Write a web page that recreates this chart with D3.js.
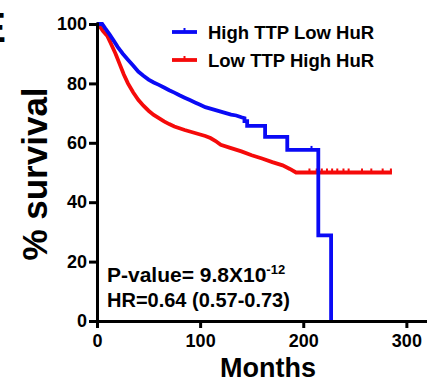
<!DOCTYPE html>
<html><head><meta charset="utf-8">
<script src="https://cdn.jsdelivr.net/npm/d3@7"></script>
<style>body{margin:0;background:#fff}svg{display:block}text{font-family:"Liberation Sans",Arial,sans-serif;font-weight:bold;fill:#000}</style>
</head><body>
<svg id="c" width="427" height="383"></svg>
<script>
const seriesNames = ["High TTP Low HuR", "Low TTP High HuR"];
const seriesColors = ["#0a0af5", "#f50a0a"];
// Kaplan-Meier curves: months, % survival (repeated months mark vertical steps)
const blueMonths = [0,5,8,12,16,20,25,30,35,40,45,50,55,60,65,70,75,80,85,90,95,100,105,110,115,120,125,130,135,140,143,143,145.6,145.6,163,163,184.5,184.5,214.6,214.6,227,227];
const blueSurv   = [100,100,98.5,96.6,94.5,92.3,90,88,86,84,82.6,81.3,80.3,79.5,78.6,77.7,76.9,76,75.2,74.4,73.6,72.8,72,71.5,71,70.5,70,69.5,69.2,68.6,68.3,67.3,67.3,65.7,65.7,62,62,57.6,57.6,28.8,28.8,0];
const redMonths  = [0,3,6,10,14,18,22,26,30,35,40,45,50,55,60,65,70,75,80,85,90,95,100,105,110,115,120,130,140,150,160,170,180,187,193,286];
const redSurv    = [100,99,97.5,96,93,90,86.5,83,80,77,74.5,72.5,70.8,69.4,68.3,67.2,66.3,65.5,64.9,64.3,63.8,63.3,62.8,62.3,61.6,60.6,59.3,58.2,57.1,55.8,54.7,53.5,52.4,51.2,50,50];
const blueCensor = [208];
const redCensor  = [206,213,218,223,228,233,239,244,257,266,277,285];
const xTicks = [0,100,200,300];
const yTicks = [0,20,40,60,80,100];

const svg = d3.select("#c");
const x = d3.scaleLinear().domain([0,320]).range([97,427]);
const y = d3.scaleLinear().domain([0,100]).range([321,24]);

function survAt(ms, ss, t){ let v = ss[0]; for(let i=0;i<ms.length;i++){ if(ms[i]<=t) v=ss[i]; } return v; }

const line = d3.line().x(d=>x(d[0])).y(d=>y(d[1])).curve(d3.curveLinear);
const series = [
  {months: blueMonths, surv: blueSurv, censor: blueCensor, color: seriesColors[0]},
  {months: redMonths, surv: redSurv, censor: redCensor, color: seriesColors[1]}
];
[series[1], series[0]].forEach(s=>{
  const pts = s.months.map((m,i)=>[m, s.surv[i]]);
  svg.append("path").attr("d", line(pts)).attr("fill","none")
    .attr("stroke", s.color).attr("stroke-width", 3.8).attr("stroke-linejoin","miter");
  svg.selectAll(null).data(s.censor).enter().append("line")
    .attr("x1", d=>x(d)).attr("x2", d=>x(d))
    .attr("y1", d=>y(survAt(s.months, s.surv, d))).attr("y2", d=>y(survAt(s.months, s.surv, d))-4)
    .attr("stroke", s.color).attr("stroke-width", 2);
});

// axes
const yAxis = svg.append("g").attr("transform","translate(97,0)")
  .call(d3.axisLeft(y).tickValues(yTicks).tickSize(8).tickPadding(2).tickSizeOuter(0));
const xAxis = svg.append("g").attr("transform","translate(0,321)")
  .call(d3.axisBottom(x).tickValues(xTicks).tickSize(7).tickPadding(6).tickSizeOuter(0));
[yAxis, xAxis].forEach(g=>{
  g.select(".domain").attr("stroke","#000").attr("stroke-width",3);
  g.selectAll(".tick line").attr("stroke","#000").attr("stroke-width",3);
  g.selectAll(".tick text").attr("font-size",18).attr("font-family","Liberation Sans, Arial, sans-serif").attr("font-weight","bold").attr("fill","#000");
});
xAxis.select(".domain").attr("d","M95.5,0.5H427");
yAxis.select(".domain").attr("d","M0.5,22.5V322.5");

// axis titles
svg.append("text").attr("x",268).attr("y",377).attr("text-anchor","middle").attr("font-size",27).text("Months");
svg.append("text").attr("transform","translate(47,174) rotate(-90)").attr("text-anchor","middle").attr("font-size",35).text("% survival");

// panel letter (partly outside the frame, as in the source figure)
svg.append("text").attr("x",6).attr("y",42).attr("text-anchor","end").attr("font-size",42).text("E");

// legend
const legY = [32, 60];
seriesNames.forEach((n,i)=>{
  svg.append("line").attr("x1",172).attr("x2",197).attr("y1",legY[i]).attr("y2",legY[i])
    .attr("stroke",seriesColors[i]).attr("stroke-width",3.8);
  svg.append("line").attr("x1",184.5).attr("x2",184.5).attr("y1",legY[i]).attr("y2",legY[i]-4)
    .attr("stroke",seriesColors[i]).attr("stroke-width",2);
  svg.append("text").attr("x",208).attr("y",legY[i]+7).attr("font-size",18.5).text(n);
});

// stats
const t1 = svg.append("text").attr("x",107).attr("y",282).attr("font-size",21);
t1.append("tspan").text("P-value= 9.8X10");
t1.append("tspan").attr("dy",-8).attr("font-size",13).text("-12");
svg.append("text").attr("x",107).attr("y",307).attr("font-size",20).text("HR=0.64 (0.57-0.73)");
</script>
</body></html>
